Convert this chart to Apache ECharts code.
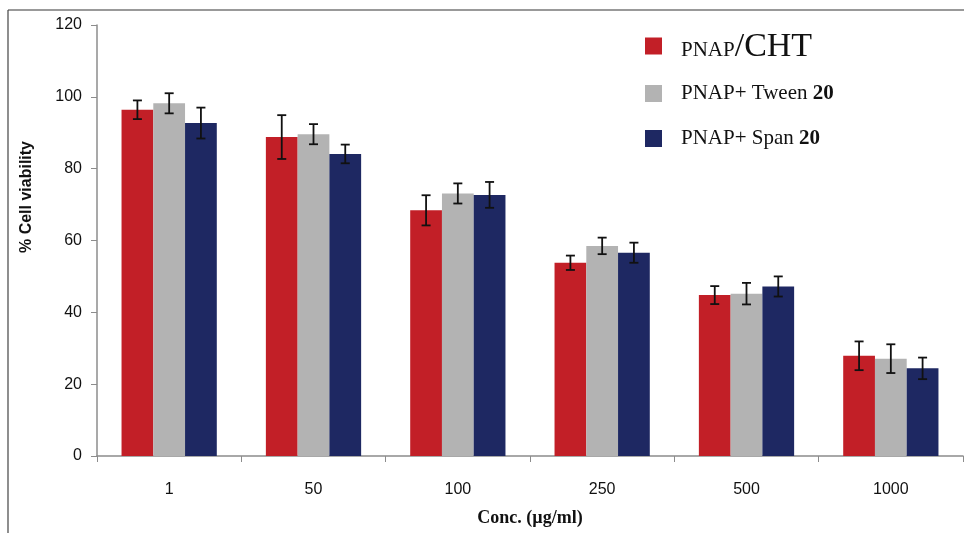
<!DOCTYPE html>
<html>
<head>
<meta charset="utf-8">
<script src="https://cdn.jsdelivr.net/npm/echarts@6/dist/echarts.min.js"></script>
<style>
  html, body { margin: 0; padding: 0; background: #fff; }
  #chart { width: 964px; height: 533px; }
</style>
</head>
<body>
<div id="chart"></div>
<script>
const categories = ['1', '50', '100', '250', '500', '1000']
const yTicks = [0, 20, 40, 60, 80, 100, 120]

const chtValues = [96.4, 88.8, 68.4, 53.8, 44.8, 27.9]
const chtErrors = [2.6, 6.1, 4.2, 2.0, 2.5, 4.0]
const tweenValues = [98.2, 89.6, 73.1, 58.5, 45.2, 27.1]
const tweenErrors = [2.8, 2.8, 2.8, 2.3, 3.0, 4.0]
const spanValues = [92.7, 84.1, 72.7, 56.6, 47.2, 24.4]
const spanErrors = [4.3, 2.6, 3.6, 2.8, 2.8, 3.0]

const RED = '#c21f27'
const GRAY = '#b3b3b3'
const NAVY = '#1e2862'
const AXIS = '#8c8c8c'
const BAR_W = 0.22

const groups = [
  { name: 'PNAP/CHT', values: chtValues, errors: chtErrors, color: RED },
  { name: 'PNAP+ Tween 20', values: tweenValues, errors: tweenErrors, color: GRAY },
  { name: 'PNAP+ Span 20', values: spanValues, errors: spanErrors, color: NAVY },
]

// error bars drawn on top of each bar of the group
function errorSeries(g, k) {
  return {
    type: 'custom',
    name: g.name + ' err',
    z: 10,
    silent: true,
    data: g.values.map((v, i) => [i, v, g.errors[i]]),
    renderItem: (params, api) => {
      const i = api.value(0)
      const v = api.value(1)
      const e = api.value(2)
      const band = api.size([1, 0])[0]
      const dx = (k - 1) * band * BAR_W
      const hi = api.coord([i, v + e])
      const lo = api.coord([i, v - e])
      const x = hi[0] + dx
      const cap = 4.5
      const style = { stroke: '#111', lineWidth: 1.8 }
      return {
        type: 'group',
        children: [
          { type: 'line', shape: { x1: x, y1: hi[1], x2: x, y2: lo[1] }, style },
          { type: 'line', shape: { x1: x - cap, y1: hi[1], x2: x + cap, y2: hi[1] }, style },
          { type: 'line', shape: { x1: x - cap, y1: lo[1], x2: x + cap, y2: lo[1] }, style },
        ],
      }
    },
  }
}

const legendRich = {
  s: { fontFamily: 'Liberation Serif', fontSize: 21, color: '#111', verticalAlign: 'bottom', lineHeight: 36, padding: [0, 0, 3, 0] },
  b: { fontFamily: 'Liberation Serif', fontSize: 34, color: '#111', verticalAlign: 'bottom', lineHeight: 36 },
  t: { fontFamily: 'Liberation Serif', fontSize: 21, color: '#111' },
  n: { fontFamily: 'Liberation Serif', fontSize: 21, fontWeight: 'bold', color: '#111' },
}

function legendFmt(name) {
  if (name === 'PNAP/CHT') return '{s|PNAP}{b|/CHT}'
  const parts = name.split(' 20')
  return '{t|' + parts[0] + ' }{n|20}'
}

const legendTops = [30, 83, 128]

const chart = echarts.init(document.getElementById('chart'))
chart.setOption({
  animation: false,
  backgroundColor: '#fff',
  grid: { left: 97, right: 1, top: 25, bottom: 77 },
  legend: groups.map((g, k) => ({
    data: [g.name],
    left: 645,
    top: legendTops[k],
    padding: 0,
    icon: 'rect',
    itemWidth: 17,
    itemHeight: 17,
    selectedMode: false,
    formatter: legendFmt,
    textStyle: { rich: legendRich, padding: [0, 0, 0, 14] },
  })),
  graphic: [
    { type: 'line', shape: { x1: 8, y1: 10, x2: 964, y2: 10 }, style: { stroke: '#777', lineWidth: 1.5 } },
    { type: 'line', shape: { x1: 8, y1: 10, x2: 8, y2: 533 }, style: { stroke: '#444', lineWidth: 1.2 } },
    {
      type: 'text', x: 27, y: 197, rotation: Math.PI / 2,
      style: {
        text: '% Cell viability', fontFamily: 'Liberation Sans', fontWeight: 'bold',
        fontSize: 16, fill: '#111', align: 'center', verticalAlign: 'middle',
      },
    },
  ],
  xAxis: {
    type: 'category',
    data: categories,
    axisLine: { lineStyle: { color: AXIS, width: 1.5 } },
    axisTick: { show: true, length: 6, interval: 0, lineStyle: { color: AXIS } },
    axisLabel: { margin: 26, fontFamily: 'Liberation Sans', fontSize: 16, color: '#111' },
    name: 'Conc. (µg/ml)',
    nameLocation: 'middle',
    nameGap: 53,
    nameTextStyle: { fontFamily: 'Liberation Serif', fontWeight: 'bold', fontSize: 18, color: '#111' },
  },
  yAxis: {
    type: 'value',
    min: yTicks[0],
    max: yTicks[yTicks.length - 1],
    interval: 20,
    axisLine: { show: true, lineStyle: { color: AXIS, width: 1.5 } },
    axisTick: { show: true, length: 6, lineStyle: { color: AXIS } },
    axisLabel: { margin: 15, fontFamily: 'Liberation Sans', fontSize: 16, color: '#111' },
    splitLine: { show: false },
  },
  series: [
    ...groups.map((g) => ({
      type: 'bar',
      name: g.name,
      data: g.values,
      barWidth: (BAR_W * 100) + '%',
      barGap: '0%',
      itemStyle: { color: g.color },
    })),
    ...groups.map(errorSeries),
  ],
})
</script>
</body>
</html>
